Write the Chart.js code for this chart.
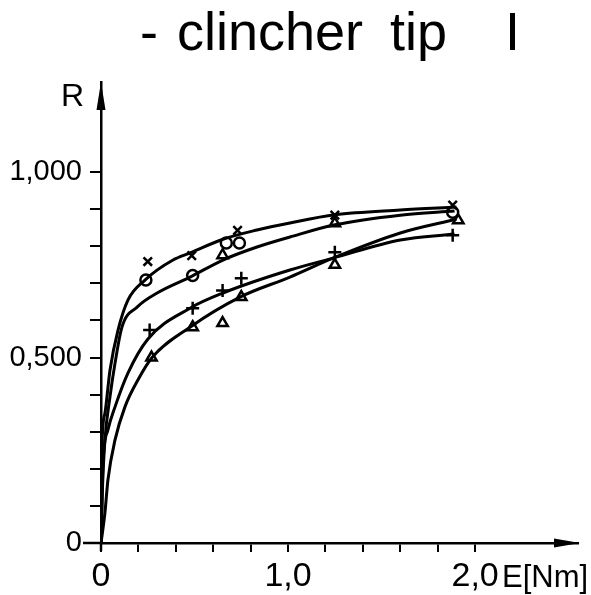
<!DOCTYPE html>
<html>
<head>
<meta charset="utf-8">
<script src="https://cdn.jsdelivr.net/npm/chart.js@4.4.1/dist/chart.umd.min.js"></script>
<style>
  html, body { margin: 0; padding: 0; background: #fff; }
  #wrap { width: 591px; height: 595px; }
</style>
</head>
<body>
<div id="wrap"><canvas id="myChart" width="591" height="595"></canvas></div>
<script>
// fitted curves
const curveA_E = [0, 0.005, 0.021, 0.048, 0.091, 0.144, 0.235, 0.385, 0.476, 0.652, 0.834, 1.01, 1.25, 1.6, 1.9];
const curveA_R = [0, 0.26, 0.35, 0.466, 0.574, 0.655, 0.709, 0.763, 0.782, 0.819, 0.844, 0.863, 0.885, 0.898, 0.906];
const curveB_E = [0, 0.008, 0.021, 0.048, 0.075, 0.112, 0.193, 0.30, 0.476, 0.652, 0.834, 1.01, 1.25, 1.6, 1.89];
const curveB_R = [0, 0.15, 0.278, 0.394, 0.485, 0.582, 0.636, 0.674, 0.717, 0.763, 0.798, 0.825, 0.858, 0.884, 0.895];
const curveC_E = [0, 0.011, 0.037, 0.075, 0.144, 0.251, 0.476, 0.652, 1.01, 1.24, 1.6, 1.89];
const curveC_R = [0, 0.216, 0.305, 0.367, 0.458, 0.55, 0.633, 0.674, 0.736, 0.768, 0.817, 0.833];
const curveD_E = [0, 0.021, 0.037, 0.075, 0.128, 0.198, 0.273, 0.476, 0.743, 1.01, 1.24, 1.6, 1.9];
const curveD_R = [0, 0.081, 0.17, 0.278, 0.367, 0.44, 0.50, 0.582, 0.663, 0.717, 0.768, 0.836, 0.873];

// measured points
const xMark_E = [0.25, 0.485, 0.73, 1.25, 1.88];
const xMark_R = [0.759, 0.775, 0.843, 0.884, 0.911];
const circle_E = [0.24, 0.49, 0.67, 0.74, 1.88];
const circle_R = [0.709, 0.721, 0.809, 0.809, 0.892];
const plus_E = [0.26, 0.49, 0.65, 0.75, 1.25, 1.88];
const plus_R = [0.574, 0.633, 0.681, 0.714, 0.784, 0.83];
const tri_E = [0.27, 0.49, 0.65, 0.65, 0.75, 1.25, 1.25, 1.91];
const tri_R = [0.50, 0.582, 0.593, 0.776, 0.663, 0.75, 0.862, 0.87];

const yLabels = { 0: "0", 0.5: "0,500", 1: "1,000" };
const xLabels = { 0: "0", 1: "1,0", 2: "2,0" };

const titleParts = ["-", "clincher", "tip", "I"];
const sans = "'Liberation Sans', Arial, sans-serif";

function pts(xs, ys) {
    return xs.map((x, i) => ({ x: x, y: ys[i] }));
}

function curve(xs, ys) {
    return {
        type: 'line',
        data: pts(xs, ys),
        borderColor: '#000',
        borderWidth: 3,
        pointRadius: 0,
        fill: false,
        cubicInterpolationMode: 'monotone'
    };
}

function marks(xs, ys, style, r) {
    return {
        type: 'scatter',
        data: pts(xs, ys),
        pointStyle: style,
        pointRadius: r,
        borderColor: '#000',
        backgroundColor: '#fff',
        pointBorderWidth: 2.5
    };
}

const extras = {
    id: 'extras',
    afterDraw(chart) {
        const ctx = chart.ctx;
        const xs = chart.scales.x, ys = chart.scales.y;
        const x0 = xs.getPixelForValue(0), y0 = ys.getPixelForValue(0);
        const top = chart.chartArea.top, right = chart.chartArea.right;
        ctx.save();
        ctx.fillStyle = '#000';
        ctx.strokeStyle = '#000';
        ctx.lineWidth = 2.5;
        // axis stubs past the origin
        ctx.beginPath();
        ctx.moveTo(x0 - 18, y0); ctx.lineTo(x0, y0);
        ctx.moveTo(x0, y0); ctx.lineTo(x0, y0 + 8);
        ctx.stroke();
        // y arrow
        ctx.beginPath();
        ctx.moveTo(x0, top);
        ctx.lineTo(x0 - 4.5, top + 28);
        ctx.lineTo(x0 + 4.5, top + 28);
        ctx.closePath();
        ctx.fill();
        // x arrow
        ctx.beginPath();
        ctx.moveTo(right + 2, y0);
        ctx.lineTo(right - 24, y0 - 4.5);
        ctx.lineTo(right - 24, y0 + 4.5);
        ctx.closePath();
        ctx.fill();
        // axis names
        ctx.textBaseline = 'alphabetic';
        ctx.textAlign = 'left';
        ctx.font = "32px " + sans;
        ctx.fillText('R', 61, 106);
        ctx.font = "31px " + sans;
        ctx.fillText('E[Nm]', 502, 587);
        // title
        ctx.font = "54px " + sans;
        const lefts = [140, 177, 390, 505];
        titleParts.forEach((t, i) => ctx.fillText(t, lefts[i], 50));
        ctx.restore();
    }
};

document.addEventListener("DOMContentLoaded", function() {
    const ctx = document.getElementById('myChart').getContext('2d');
    const myChart = new Chart(ctx, {
        data: {
            datasets: [
                curve(curveA_E, curveA_R),
                curve(curveB_E, curveB_R),
                curve(curveC_E, curveC_R),
                curve(curveD_E, curveD_R),
                marks(xMark_E, xMark_R, 'crossRot', 6),
                marks(circle_E, circle_R, 'circle', 5.5),
                marks(plus_E, plus_R, 'cross', 6.5),
                marks(tri_E, tri_R, 'triangle', 6)
            ]
        },
        options: {
            responsive: false,
            animation: false,
            layout: { padding: { left: 0, right: 13, top: 82, bottom: 0 } },
            plugins: {
                legend: { display: false },
                tooltip: { enabled: false },
                title: { display: false }
            },
            scales: {
                x: {
                    type: 'linear',
                    min: 0,
                    max: 2.55,
                    afterFit: function(scale) { scale.height = 52; },
                    afterBuildTicks: function(scale) {
                        scale.ticks = scale.ticks.filter(t => t.value <= 2.0001);
                    },
                    border: { display: true, color: '#000', width: 2.5 },
                    grid: { drawOnChartArea: false, color: '#000', lineWidth: 2, tickLength: 9 },
                    ticks: {
                        stepSize: 0.2,
                        autoSkip: false,
                        maxRotation: 0,
                        padding: 4,
                        color: '#000',
                        font: { family: sans, size: 34 },
                        callback: function(v) {
                            const k = Math.round(v * 10) / 10;
                            return xLabels[k] !== undefined ? xLabels[k] : '';
                        }
                    }
                },
                y: {
                    type: 'linear',
                    min: 0,
                    max: 1.243,
                    afterFit: function(scale) { scale.width = 101; },
                    afterBuildTicks: function(scale) {
                        scale.ticks = scale.ticks.filter(t => t.value <= 1.0001);
                    },
                    border: { display: true, color: '#000', width: 2.5 },
                    grid: { drawOnChartArea: false, color: '#000', lineWidth: 2, tickLength: 11 },
                    ticks: {
                        stepSize: 0.1,
                        autoSkip: false,
                        padding: 8,
                        color: '#000',
                        font: { family: sans, size: 29 },
                        callback: function(v) {
                            const k = Math.round(v * 10) / 10;
                            return yLabels[k] !== undefined ? yLabels[k] : '';
                        }
                    }
                }
            }
        },
        plugins: [extras]
    });
});
</script>
</body>
</html>
